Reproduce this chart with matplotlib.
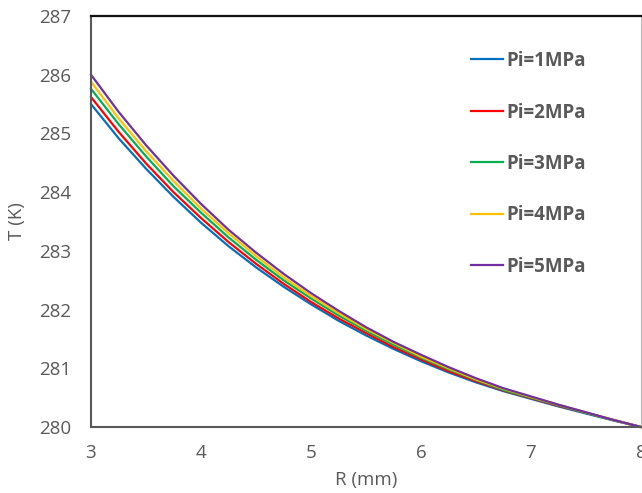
import matplotlib
matplotlib.use("Agg")
import matplotlib.pyplot as plt

# radius (mm)
R = [3.0, 3.25, 3.5, 3.75, 4.0, 4.25, 4.5, 4.75, 5.0, 5.25, 5.5,
     5.75, 6.0, 6.25, 6.5, 6.75, 7.0, 7.25, 7.5, 7.75, 8.0]

# temperature (K) for each inlet pressure
T_1mpa = [285.50, 284.92, 284.40, 283.92, 283.48, 283.08, 282.72, 282.39, 282.09, 281.81, 281.56,
          281.33, 281.12, 280.93, 280.76, 280.61, 280.48, 280.35, 280.23, 280.11, 280.00]
T_2mpa = [285.62, 285.03, 284.49, 284.00, 283.56, 283.15, 282.78, 282.44, 282.13, 281.85, 281.60,
          281.36, 281.15, 280.95, 280.78, 280.62, 280.49, 280.36, 280.24, 280.12, 280.00]
T_3mpa = [285.76, 285.16, 284.61, 284.10, 283.65, 283.23, 282.85, 282.50, 282.19, 281.90, 281.64,
          281.40, 281.18, 280.98, 280.80, 280.63, 280.50, 280.37, 280.24, 280.12, 280.00]
T_4mpa = [285.88, 285.26, 284.70, 284.19, 283.72, 283.30, 282.91, 282.55, 282.23, 281.94, 281.67,
          281.43, 281.20, 281.00, 280.81, 280.65, 280.51, 280.38, 280.25, 280.12, 280.00]
T_5mpa = [286.00, 285.37, 284.80, 284.28, 283.80, 283.36, 282.97, 282.61, 282.28, 281.98, 281.70,
          281.45, 281.23, 281.02, 280.83, 280.66, 280.52, 280.38, 280.25, 280.12, 280.00]

labels = ["Pi=1MPa", "Pi=2MPa", "Pi=3MPa", "Pi=4MPa", "Pi=5MPa"]
series = [T_1mpa, T_2mpa, T_3mpa, T_4mpa, T_5mpa]
colors = ["#0070C0", "#FF0000", "#00B050", "#FFC000", "#7030A0"]

x_ticks = [3, 4, 5, 6, 7, 8]
y_ticks = [280, 281, 282, 283, 284, 285, 286, 287]

GRAY = "#595959"
plt.rcParams["font.family"] = ["Open Sans", "DejaVu Sans"]

fig = plt.figure(figsize=(6.42, 4.93), dpi=100)
ax = fig.add_axes([91 / 642, 1 - 427 / 493, 550 / 642, 411 / 493])

for T, lab, c in zip(series, labels, colors):
    ax.plot(R, T, color=c, lw=1.6, label=lab, clip_on=False)

ax.set_xlim(3, 8)
ax.set_ylim(280, 287)
ax.set_xticks(x_ticks)
ax.set_yticks(y_ticks)
ax.tick_params(length=0, labelsize=13.5, labelcolor=GRAY)
ax.tick_params(axis="y", pad=14)
ax.tick_params(axis="x", pad=12)

ax.set_xlabel("R (mm)", fontsize=13.5, color=GRAY, labelpad=7)
ax.set_ylabel("T (K)", fontsize=13.5, color=GRAY, labelpad=10)

ax.spines["left"].set_color(GRAY)
ax.spines["left"].set_linewidth(1.5)
ax.spines["bottom"].set_color(GRAY)
ax.spines["bottom"].set_linewidth(1.5)
ax.spines["top"].set_color("#111111")
ax.spines["top"].set_linewidth(1.6)
ax.spines["right"].set_color("#bbbbbb")
ax.spines["right"].set_linewidth(0.8)

leg = ax.legend(loc="upper left", bbox_to_anchor=(471 / 642, 1 - 51 / 493),
                bbox_transform=fig.transFigure, frameon=False,
                prop={"weight": "bold", "size": 13.5},
                handlelength=1.7, handletextpad=0.2, labelspacing=1.68,
                borderpad=0, borderaxespad=0)
for t in leg.get_texts():
    t.set_color(GRAY)

fig.savefig("out.png", dpi=100)
